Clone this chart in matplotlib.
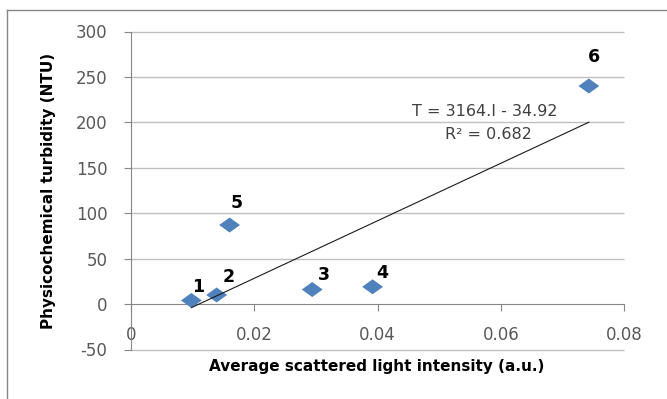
import numpy as np
import matplotlib.pyplot as plt
from matplotlib.lines import Line2D
from matplotlib.path import Path

# scattered light intensity (a.u.) vs physicochemical turbidity (NTU)
intensity = [0.0098, 0.0139, 0.0294, 0.0392, 0.0160, 0.0743]
turbidity = [4, 10, 16, 19, 87, 240]
point_labels = ['1', '2', '3', '4', '5', '6']

# linear fit reported on the chart
slope = 3164.0
intercept = -34.92
r2 = 0.682

x_ticks = [0, 0.02, 0.04, 0.06, 0.08]
x_ticklabels = ['0', '0.02', '0.04', '0.06', '0.08']
y_ticks = [-50, 0, 50, 100, 150, 200, 250, 300]

plt.rcParams['font.family'] = ['DejaVu Sans']
plt.rcParams['axes.unicode_minus'] = False

fig = plt.figure(figsize=(6.67, 3.99), dpi=100)
ax = fig.add_axes([131 / 667, 49.5 / 399, 493 / 667, 318 / 399])

# outer chart border, only left and top are inside the picture
bx, by = 6.5 / 667, 1 - 10 / 399
fig.add_artist(Line2D([bx, bx], [-0.1, by], transform=fig.transFigure,
                      color='#868686', lw=1.0))
fig.add_artist(Line2D([bx, 1.1], [by, by], transform=fig.transFigure,
                      color='#868686', lw=1.0))

# wide diamond marker
diamond = Path([(-1, 0), (0, 0.72), (1, 0), (0, -0.72), (-1, 0)],
               [Path.MOVETO, Path.LINETO, Path.LINETO, Path.LINETO, Path.CLOSEPOLY])

ax.set_xlim(0, 0.08)
ax.set_ylim(-50, 300)

grid_y = [y for y in y_ticks if y != 0]
ax.hlines(grid_y, 0, 0.08, color='#BFBFBF', lw=1.0, zorder=0, clip_on=False)

ax.scatter(intensity, turbidity, marker=diamond, s=15 ** 2,
           color='#4F81BD', edgecolors='none', zorder=3)

# trendline over data range
xs = np.array([min(intensity), max(intensity)])
ax.plot(xs, slope * xs + intercept, color='#1a1a1a', lw=0.8, zorder=4)

offsets = [(7, 13), (12, 18), (12, 15), (10, 14), (7, 22), (5, 29)]
for xi, yi, lab, off in zip(intensity, turbidity, point_labels, offsets):
    ax.annotate(lab, (xi, yi), xytext=off, textcoords='offset pixels',
                ha='center', va='center', fontsize=12.5, fontweight='bold',
                color='black', zorder=5)

ax.text(0.718, 0.748, 'T = 3164.I - 34.92', transform=ax.transAxes,
        ha='center', va='center', fontsize=11.5, color='#404040')
ax.text(0.726, 0.676, 'R² = %.3f' % r2, transform=ax.transAxes,
        ha='center', va='center', fontsize=11.5, color='#404040')

for s in ['top', 'right']:
    ax.spines[s].set_visible(False)
ax.spines['bottom'].set_position(('data', 0))
ax.spines['bottom'].set_color('#868686')
ax.spines['left'].set_color('#868686')

ax.set_xticks(x_ticks)
ax.set_xticklabels(x_ticklabels)
ax.set_yticks(y_ticks)
ax.tick_params(axis='x', direction='out', length=5, color='#868686',
               labelcolor='#595959', labelsize=12, pad=11)
ax.tick_params(axis='y', direction='out', length=5, color='#868686',
               labelcolor='#595959', labelsize=12, pad=12)

fig.text(377 / 667, 1 - 367 / 399, 'Average scattered light intensity (a.u.)',
         ha='center', va='center', fontsize=11, fontweight='bold')
fig.text(49 / 667, 1 - 191 / 399, 'Physicochemical turbidity (NTU)',
         ha='center', va='center', rotation=90, fontsize=11, fontweight='bold')

fig.savefig('out.png', dpi=100)
